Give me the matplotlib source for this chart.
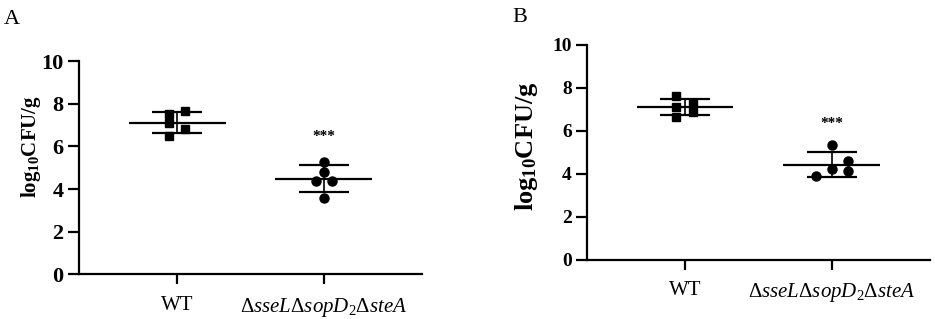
import numpy as np
import matplotlib
matplotlib.use("Agg")
import matplotlib.pyplot as plt

plt.rcParams['font.family'] = 'Liberation Serif'
plt.rcParams['mathtext.fontset'] = 'custom'
plt.rcParams['mathtext.rm'] = 'Liberation Serif'
plt.rcParams['mathtext.it'] = 'Liberation Serif:italic'
plt.rcParams['mathtext.bf'] = 'Liberation Serif:bold'

groups = ['WT', r'$\Delta sseL\Delta sopD_2\Delta steA$']

# panel A
a_wt = [7.52, 7.67, 7.10, 6.82, 6.49]
a_wt_dx = [-0.055, 0.055, -0.055, 0.055, -0.055]
a_mut = [5.29, 4.79, 4.40, 4.40, 3.60]
a_mut_dx = [0.0, 0.0, -0.055, 0.055, 0.0]
a_star = 6.45

# panel B
b_wt = [7.63, 7.32, 7.13, 6.87, 6.65]
b_wt_dx = [-0.06, 0.055, -0.06, 0.055, -0.06]
b_mut = [5.33, 4.62, 4.23, 4.13, 3.89]
b_mut_dx = [0.0, 0.11, 0.0, 0.11, -0.11]
b_star = 6.35


def draw_panel(ax, wt, wt_dx, mut, mut_dx, star_y, tick_fs, label_fs, label_xy, xpad):
    for i, (vals, dx, mk) in enumerate([(wt, wt_dx, 's'), (mut, mut_dx, 'o')]):
        x0 = i + 1
        vals = np.array(vals)
        m = vals.mean()
        sd = vals.std(ddof=1)
        ax.hlines(m, x0 - 0.33, x0 + 0.33, color='black', lw=1.6, zorder=2)
        ax.hlines([m - sd, m + sd], x0 - 0.17, x0 + 0.17, color='black', lw=1.6, zorder=2)
        ax.vlines(x0, m - sd, m + sd, color='black', lw=1.2, zorder=2)
        ax.plot(x0 + np.array(dx), vals, marker=mk, ls='none', color='black',
                markersize=6.0 if mk == 's' else 6.5, zorder=3)
    ax.text(2, star_y, '***', ha='center', va='center', fontsize=11, fontweight='bold')

    ax.set_xlim(0.333, 2.667)
    ax.set_ylim(0, 10)
    ax.set_yticks([0, 2, 4, 6, 8, 10])
    ax.set_xticks([1, 2])
    ax.set_xticklabels(groups, fontsize=15)
    for lab in ax.get_yticklabels():
        lab.set_fontweight('bold')
        lab.set_fontsize(tick_fs)
    ax.spines['top'].set_visible(False)
    ax.spines['right'].set_visible(False)
    ax.spines['left'].set_linewidth(1.6)
    ax.spines['bottom'].set_linewidth(1.6)
    ax.tick_params(axis='y', length=8, width=1.6, pad=3)
    ax.tick_params(axis='x', length=7, width=1.6, pad=xpad)
    ax.set_ylabel(r'$\mathbf{log_{10}CFU/g}$', fontsize=label_fs)
    ax.yaxis.set_label_coords(*label_xy)


fig = plt.figure(figsize=(9.35, 3.19), dpi=100)
ax1 = fig.add_axes([0.0845, 0.1395, 0.3668, 0.669])
ax2 = fig.add_axes([0.6278, 0.185, 0.3668, 0.674])

draw_panel(ax1, a_wt, a_wt_dx, a_mut, a_mut_dx, a_star, 16, 15, (-0.105, 0.60), 8.5)
draw_panel(ax2, b_wt, b_wt_dx, b_mut, b_mut_dx, b_star, 14, 19, (-0.137, 0.53), 8)

fig.text(0.004, 0.925, 'A', fontsize=16)
fig.text(0.548, 0.93, 'B', fontsize=16)

fig.savefig('out.png', dpi=100)
